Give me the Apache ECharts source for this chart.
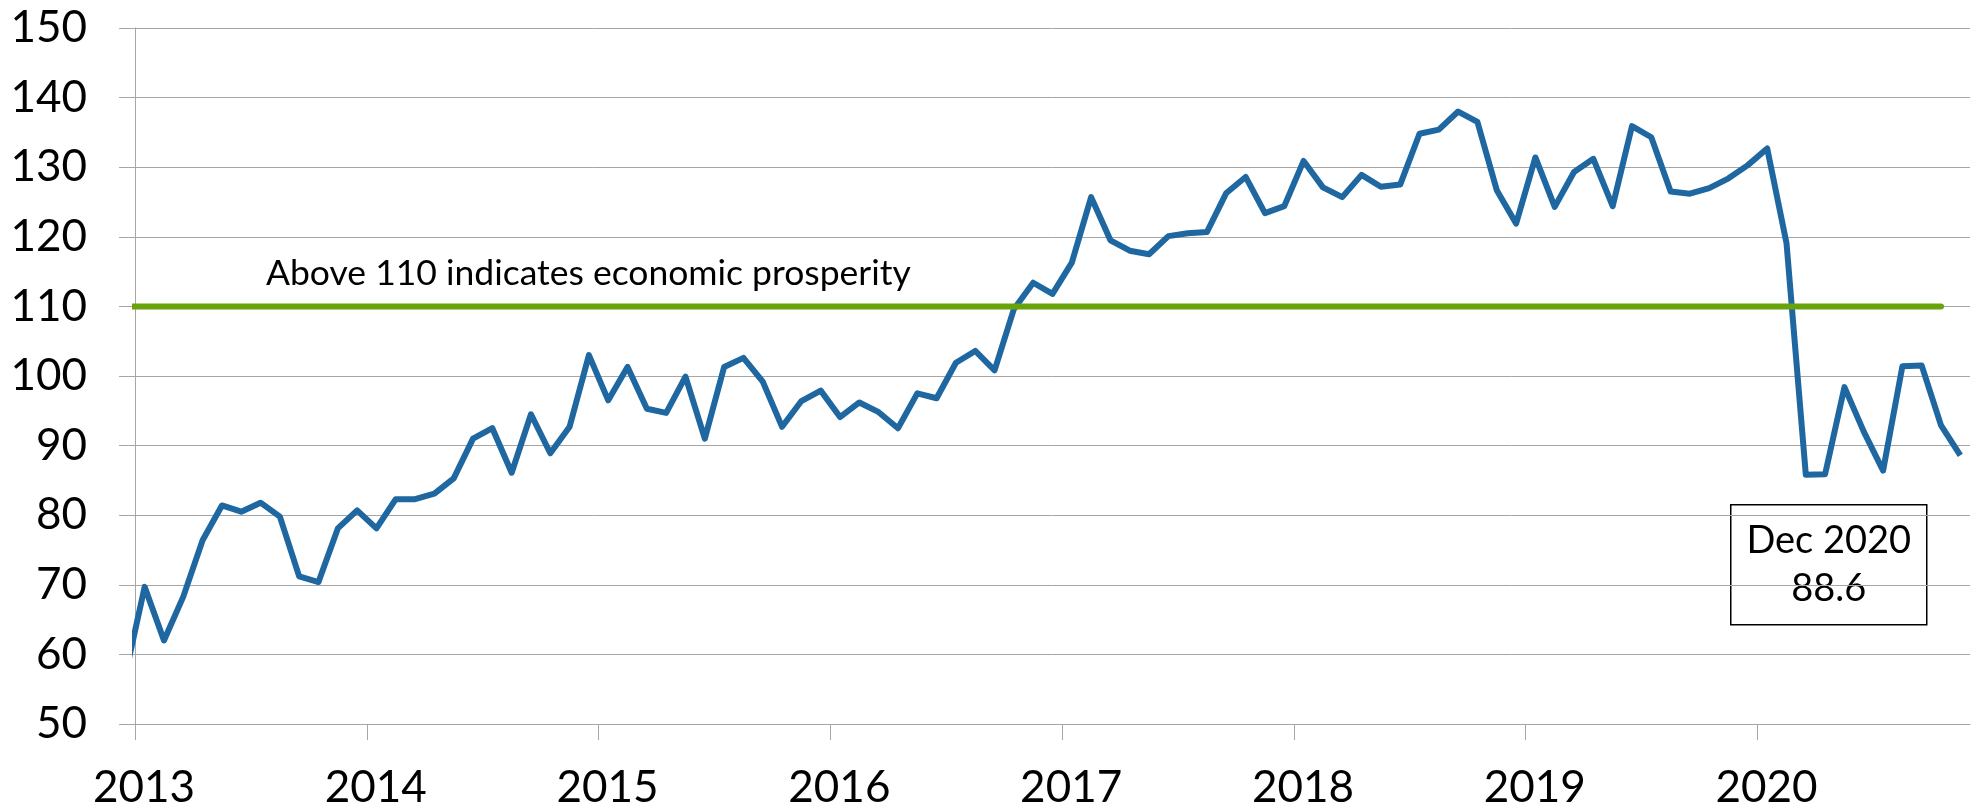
<!DOCTYPE html>
<html>
<head>
<meta charset="utf-8">
<title>Index</title>
<script src="https://cdn.jsdelivr.net/npm/echarts@6/dist/echarts.min.js"></script>
<style>
  html, body { margin: 0; padding: 0; background: #fff; }
  #chart { width: 1983px; height: 812px; }
</style>
</head>
<body>
<div id="chart"></div>
<script>
const years = [2013, 2014, 2015, 2016, 2017, 2018, 2019, 2020];
const monthNames = ['Jan', 'Feb', 'Mar', 'Apr', 'May', 'Jun', 'Jul', 'Aug', 'Sep', 'Oct', 'Nov', 'Dec'];

// monthly index values, one row per year (Jan..Dec)
const values2013 = [57.0, 69.7, 62.0, 68.3, 76.4, 81.4, 80.5, 81.8, 79.8, 71.2, 70.4, 78.1];
const values2014 = [80.7, 78.1, 82.3, 82.3, 83.1, 85.3, 91.0, 92.5, 86.1, 94.5, 88.9, 92.7];
const values2015 = [103.0, 96.5, 101.3, 95.3, 94.7, 99.9, 91.0, 101.3, 102.6, 99.2, 92.7, 96.4];
const values2016 = [97.9, 94.1, 96.2, 94.8, 92.5, 97.5, 96.8, 101.9, 103.6, 100.8, 109.6, 113.4];
const values2017 = [111.8, 116.3, 125.7, 119.5, 118.0, 117.5, 120.1, 120.5, 120.7, 126.3, 128.6, 123.4];
const values2018 = [124.4, 130.9, 127.1, 125.7, 128.9, 127.2, 127.5, 134.8, 135.4, 138.0, 136.5, 126.7];
const values2019 = [121.9, 131.4, 124.3, 129.3, 131.2, 124.4, 135.9, 134.3, 126.5, 126.2, 127.0, 128.4];
const values2020 = [130.3, 132.7, 119.1, 85.8, 85.9, 98.4, 92.0, 86.4, 101.4, 101.5, 92.9, 88.6];

const yTicks = [50, 60, 70, 80, 90, 100, 110, 120, 130, 140, 150];

const threshold = 110;
const thresholdFrom = [2013, 0];   // Jan 2013
const thresholdTo = [2020, 10];    // Nov 2020
const thresholdText = 'Above 110 indicates economic prosperity';

const valuesByYear = [values2013, values2014, values2015, values2016, values2017, values2018, values2019, values2020];

// points sit half a month before the month start, as in the source chart
function monthX(year, m) {
  return year + (m - 0.5) / 12;
}

const lineData = [];
valuesByYear.forEach((vals, yi) => {
  vals.forEach((v, m) => lineData.push([monthX(years[yi], m), v]));
});

const thresholdData = [
  [monthX(thresholdFrom[0], thresholdFrom[1]), threshold],
  [monthX(thresholdTo[0], thresholdTo[1]), threshold],
];

const lastYear = years[years.length - 1];
const lastVals = valuesByYear[valuesByYear.length - 1];
const lastLabel = monthNames[lastVals.length - 1] + ' ' + lastYear + '\n' + lastVals[lastVals.length - 1].toFixed(1);

const FONT = 'Lato, "Open Sans", sans-serif';
const GRAY = '#a6a6a6';

const chart = echarts.init(document.getElementById('chart'));

const option = {
  animation: false,
  backgroundColor: '#fff',
  grid: {
    left: 135,
    right: 13,
    top: 28,
    bottom: 88,
  },
  xAxis: {
    type: 'value',
    min: years[0],
    max: monthX(lastYear, 11.5),
    splitLine: { show: false },
    axisLine: { show: true, onZero: false, lineStyle: { color: GRAY, width: 1 } },
    axisTick: {
      show: true,
      length: 16,
      customValues: years,
      lineStyle: { color: GRAY, width: 1 },
    },
    axisLabel: {
      customValues: years,
      formatter: (v) => String(Math.round(v)),
      color: '#000',
      fontFamily: FONT,
      fontSize: 44,
      margin: 42,
      padding: [0, 0, 0, 18],
    },
  },
  yAxis: {
    type: 'value',
    min: yTicks[0],
    max: yTicks[yTicks.length - 1],
    interval: 10,
    axisLine: { show: true, lineStyle: { color: GRAY, width: 1 } },
    axisTick: { show: true, length: 16, lineStyle: { color: GRAY, width: 1 } },
    splitLine: { show: true, lineStyle: { color: GRAY, width: 1 } },
    axisLabel: {
      color: '#000',
      fontFamily: FONT,
      fontSize: 44,
      margin: 48,
    },
  },
  series: [
    {
      name: 'Index',
      type: 'line',
      data: lineData,
      showSymbol: false,
      smooth: false,
      lineStyle: { color: '#1f67a0', width: 6, join: 'round' },
      itemStyle: { color: '#1f67a0' },
    },
    {
      name: 'Threshold',
      type: 'line',
      data: thresholdData,
      showSymbol: false,
      lineStyle: { color: '#68a30c', width: 6, cap: 'round' },
      itemStyle: { color: '#68a30c' },
    },
  ],
  graphic: [
    {
      type: 'text',
      left: 266,
      top: 256,
      style: {
        text: thresholdText,
        fill: '#000',
        font: '35.5px ' + FONT,
      },
    },
    {
      type: 'group',
      left: 1730,
      top: 504,
      children: [
        {
          type: 'rect',
          shape: { x: 0, y: 0, width: 196, height: 120 },
          style: { fill: '#fff', stroke: '#000', lineWidth: 1.5 },
        },
        {
          type: 'text',
          x: 98,
          y: 60,
          style: {
            text: lastLabel,
            fill: '#000',
            font: '38px ' + FONT,
            lineHeight: 48,
            align: 'center',
            verticalAlign: 'middle',
          },
        },
      ],
    },
  ],
};

chart.setOption(option);

window.addEventListener('resize', () => {
  chart.resize();
});
</script>
</body>
</html>
